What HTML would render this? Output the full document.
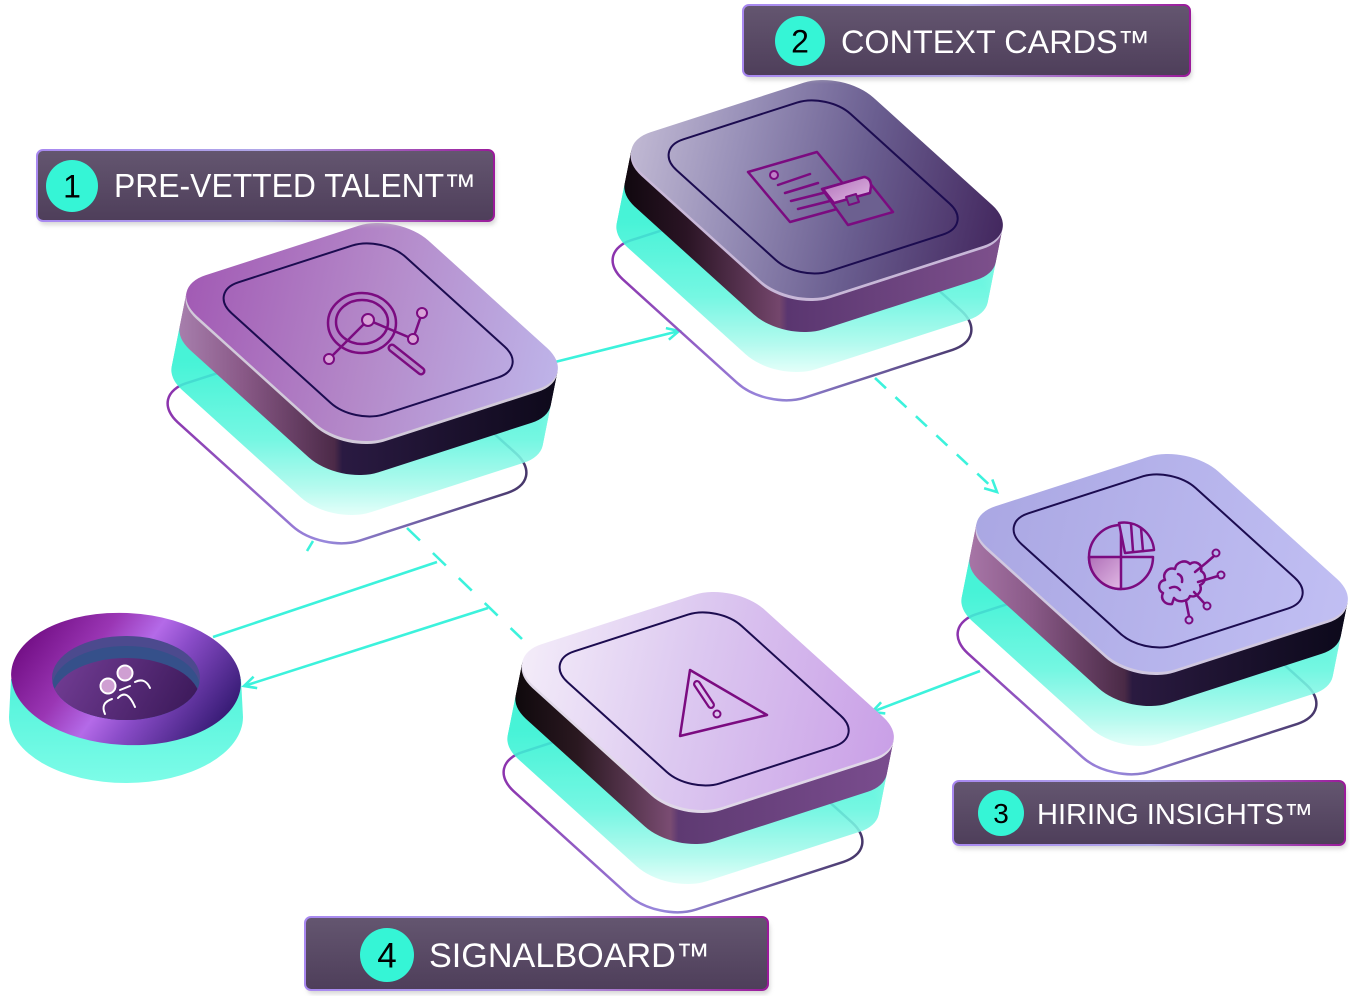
<!DOCTYPE html>
<html><head><meta charset="utf-8"><style>html,body{margin:0;padding:0;background:#fff;}svg{display:block}</style></head>
<body>
<svg width="1350" height="996" viewBox="0 0 1350 996" xmlns="http://www.w3.org/2000/svg" xmlns:xlink="http://www.w3.org/1999/xlink" font-family="'Liberation Sans', sans-serif">
<defs>
  <rect id="sq" width="100" height="100" rx="17" transform="matrix(2.32,-0.75,1.80,1.63,166,288)" vector-effect="non-scaling-stroke"/>
  <rect id="inr" x="12" y="8" width="75" height="81" rx="13" transform="matrix(2.32,-0.75,1.80,1.63,166,288)" vector-effect="non-scaling-stroke"/>
  <g id="cyS">
    <use href="#sq" x="-7.2" y="36"/><use href="#sq" x="-7.6" y="38"/><use href="#sq" x="-8" y="40"/><use href="#sq" x="-8.4" y="42"/>
    <use href="#sq" x="-8.8" y="44"/><use href="#sq" x="-9.2" y="46"/><use href="#sq" x="-9.6" y="48"/><use href="#sq" x="-10" y="50"/>
    <use href="#sq" x="-10.4" y="52"/><use href="#sq" x="-10.8" y="54"/><use href="#sq" x="-11.2" y="56"/><use href="#sq" x="-11.6" y="58"/>
    <use href="#sq" x="-12" y="60"/><use href="#sq" x="-12.4" y="62"/><use href="#sq" x="-12.8" y="64"/><use href="#sq" x="-13.2" y="66"/>
    <use href="#sq" x="-13.6" y="68"/><use href="#sq" x="-14" y="70"/><use href="#sq" x="-14.4" y="72"/><use href="#sq" x="-14.8" y="74"/>
  </g>
  <g id="bdS">
    <use href="#sq" x="-0.4" y="2"/><use href="#sq" x="-0.8" y="4"/><use href="#sq" x="-1.2" y="6"/><use href="#sq" x="-1.6" y="8"/>
    <use href="#sq" x="-2" y="10"/><use href="#sq" x="-2.4" y="12"/><use href="#sq" x="-2.8" y="14"/><use href="#sq" x="-3.2" y="16"/>
    <use href="#sq" x="-3.6" y="18"/><use href="#sq" x="-4" y="20"/><use href="#sq" x="-4.4" y="22"/><use href="#sq" x="-4.8" y="24"/>
    <use href="#sq" x="-5.2" y="26"/><use href="#sq" x="-5.6" y="28"/><use href="#sq" x="-6" y="30"/><use href="#sq" x="-6.4" y="32"/>
    <use href="#sq" x="-6.8" y="34"/>
  </g>

  <linearGradient id="cy" gradientUnits="userSpaceOnUse" x1="0" y1="287" x2="0" y2="443" gradientTransform="matrix(0.31764,0.14615,-0.35077,0.4521,48.294,-154.466)">
    <stop offset="0" stop-color="#2ef2d2"/><stop offset="0.5" stop-color="#62f6df"/><stop offset="0.8" stop-color="#a8faec"/><stop offset="1" stop-color="#e4fffa"/>
  </linearGradient>
  <linearGradient id="ol" x1="0" y1="0" x2="1" y2="1">
    <stop offset="0" stop-color="#8a2aa8"/><stop offset="0.5" stop-color="#9888dc"/><stop offset="1" stop-color="#3e2e5e"/>
  </linearGradient>

  <linearGradient id="s1" gradientUnits="userSpaceOnUse" x1="166" y1="0" x2="578" y2="0" gradientTransform="matrix(0.31764,0.14615,-0.35077,0.4521,48.294,-154.466)">
    <stop offset="0" stop-color="#b08ab8"/><stop offset="0.2" stop-color="#8a5a88"/><stop offset="0.425" stop-color="#4c2a48"/><stop offset="0.445" stop-color="#2a1a42"/><stop offset="1" stop-color="#0c0818"/>
  </linearGradient>
  <linearGradient id="s2" gradientUnits="userSpaceOnUse" x1="166" y1="0" x2="578" y2="0" gradientTransform="matrix(0.31764,0.14615,-0.35077,0.4521,48.294,-154.466)">
    <stop offset="0" stop-color="#080408"/><stop offset="0.2" stop-color="#2a1424"/><stop offset="0.425" stop-color="#74466c"/><stop offset="0.445" stop-color="#5a3670"/><stop offset="1" stop-color="#80528e"/>
  </linearGradient>
  <linearGradient id="s3" gradientUnits="userSpaceOnUse" x1="166" y1="0" x2="578" y2="0" gradientTransform="matrix(0.31764,0.14615,-0.35077,0.4521,48.294,-154.466)">
    <stop offset="0" stop-color="#b07eb0"/><stop offset="0.2" stop-color="#8a5a88"/><stop offset="0.425" stop-color="#4a2a46"/><stop offset="0.445" stop-color="#2a1a40"/><stop offset="1" stop-color="#0a0818"/>
  </linearGradient>
  <linearGradient id="s4" gradientUnits="userSpaceOnUse" x1="166" y1="0" x2="578" y2="0" gradientTransform="matrix(0.31764,0.14615,-0.35077,0.4521,48.294,-154.466)">
    <stop offset="0" stop-color="#060406"/><stop offset="0.2" stop-color="#2a1820"/><stop offset="0.425" stop-color="#7a4c72"/><stop offset="0.445" stop-color="#5e3a72"/><stop offset="1" stop-color="#7c4e90"/>
  </linearGradient>

  <linearGradient id="f1" x1="0" y1="0" x2="1" y2="1">
    <stop offset="0" stop-color="#a056b2"/><stop offset="0.5" stop-color="#b489c9"/><stop offset="1" stop-color="#bfb8ec"/>
  </linearGradient>
  <linearGradient id="f2" x1="0" y1="0" x2="1" y2="1">
    <stop offset="0" stop-color="#c8c0d8"/><stop offset="0.3" stop-color="#9890b8"/><stop offset="0.6" stop-color="#6a5e90"/><stop offset="1" stop-color="#3e2058"/>
  </linearGradient>
  <linearGradient id="f3" x1="0" y1="0" x2="1" y2="1">
    <stop offset="0" stop-color="#a9a6e2"/><stop offset="1" stop-color="#c2c0f4"/>
  </linearGradient>
  <linearGradient id="f4" x1="0" y1="0" x2="1" y2="1">
    <stop offset="0" stop-color="#f6f0fa"/><stop offset="0.45" stop-color="#dcc8f0"/><stop offset="1" stop-color="#c89ce6"/>
  </linearGradient>

  <linearGradient id="lf" x1="0" y1="0" x2="0" y2="1">
    <stop offset="0" stop-color="#645670"/><stop offset="1" stop-color="#4e3e5a"/>
  </linearGradient>
  <linearGradient id="ls" x1="0" y1="0" x2="1" y2="0">
    <stop offset="0" stop-color="#a888f0"/><stop offset="0.5" stop-color="#b0a8e8"/><stop offset="1" stop-color="#9a1a9a"/>
  </linearGradient>
  <filter id="blur" x="-10%" y="-30%" width="120%" height="160%"><feGaussianBlur stdDeviation="2"/></filter>

  <linearGradient id="discTop" gradientUnits="userSpaceOnUse" x1="30" y1="620" x2="220" y2="745">
    <stop offset="0" stop-color="#6e0a80"/><stop offset="0.3" stop-color="#9a36b4"/><stop offset="0.48" stop-color="#b46ae8"/><stop offset="0.62" stop-color="#8a4cc8"/><stop offset="1" stop-color="#2a1468"/>
  </linearGradient>
  <linearGradient id="discSide" gradientUnits="userSpaceOnUse" x1="0" y1="680" x2="0" y2="785">
    <stop offset="0" stop-color="#50f3da"/><stop offset="1" stop-color="#7efce8"/>
  </linearGradient>
  <linearGradient id="floor" gradientUnits="userSpaceOnUse" x1="70" y1="660" x2="190" y2="725">
    <stop offset="0" stop-color="#6e3a90"/><stop offset="1" stop-color="#3a1858"/>
  </linearGradient>
  <clipPath id="hole"><ellipse cx="126" cy="678" rx="74" ry="42"/></clipPath>
  <linearGradient id="pink" x1="0" y1="0" x2="1" y2="1">
    <stop offset="0" stop-color="#b070b8"/><stop offset="1" stop-color="#e0b8e4"/>
  </linearGradient>
</defs>

<!-- connectors -->
<g stroke="#3cf2dc" stroke-width="2.6" fill="none" stroke-linecap="butt">
  <line x1="555" y1="362" x2="679" y2="331"/>
  <path d="M665.9,328.1 L679,331 L668.9,339.7"/>
  <line x1="875" y1="378" x2="997" y2="492" stroke-dasharray="15 13"/>
  <path d="M984.1,488.2 L997,492 L992.3,479.4"/>
  <line x1="980" y1="671" x2="872" y2="712"/>
  <path d="M881.1,702.2 L872,712 L885.3,713.4"/>
  <line x1="407" y1="528" x2="522" y2="639" stroke-dasharray="18 18"/>
  <line x1="213" y1="637" x2="437" y2="562"/>
  <line x1="488" y1="608" x2="244" y2="686"/>
  <path d="M253.6,676.7 L244,686 L257.2,688.1"/>
  <line x1="313" y1="541" x2="307" y2="551"/>
</g>

<!-- disc -->
<path d="M11,679 L9,717 A117,66 0 0 0 243,717 L241,679 Z" fill="url(#discSide)"/>
<ellipse cx="126" cy="679" rx="115" ry="66" fill="url(#discTop)" transform="rotate(3 126 679)"/>
<g clip-path="url(#hole)">
  <rect x="50" y="630" width="160" height="100" fill="#4c4a8e"/>
  <ellipse cx="126" cy="688" rx="74" ry="42" fill="#35508a"/>
  <ellipse cx="126" cy="700" rx="74" ry="42" fill="url(#floor)"/>
</g>
<g stroke="#fff" stroke-width="2" fill="none" stroke-linecap="round">
  <circle cx="108" cy="686" r="7.5" fill="#cf9fd2"/>
  <circle cx="125" cy="673" r="7.5" fill="#cf9fd2"/>
  <path d="M105,714 Q100,703 112,699"/>
  <path d="M120,690 L130,686"/>
  <path d="M118,698 Q127,688 135,707"/>
  <path d="M135,682 Q145,677 150,688"/>
</g>

<!-- Tile 1 -->
<g>
  <use href="#sq" transform="translate(347,438) scale(0.965) translate(-372,-332)" fill="none" stroke="url(#ol)" stroke-width="2.5"/>
  <use href="#cyS" fill="url(#cy)" opacity="0.88"/>
  <use href="#bdS" fill="url(#s1)"/>
  <use href="#sq" x="-0.5" y="3" fill="#d2cada"/>
  <use href="#sq" fill="url(#f1)"/>
  <use href="#inr" fill="none" stroke="#1c0c50" stroke-width="2"/>
</g>
<!-- Tile 2 -->
<g transform="translate(445,-143)">
  <use href="#sq" transform="translate(347,438) scale(0.965) translate(-372,-332)" fill="none" stroke="url(#ol)" stroke-width="2.5"/>
  <use href="#cyS" fill="url(#cy)" opacity="0.88"/>
  <use href="#bdS" fill="url(#s2)"/>
  <use href="#sq" x="-0.5" y="3" fill="#c8b8d8"/>
  <use href="#sq" fill="url(#f2)"/>
  <use href="#inr" fill="none" stroke="#1c0c50" stroke-width="2"/>
</g>
<!-- Tile 3 -->
<g transform="translate(790,231)">
  <use href="#sq" transform="translate(347,438) scale(0.965) translate(-372,-332)" fill="none" stroke="url(#ol)" stroke-width="2.5"/>
  <use href="#cyS" fill="url(#cy)" opacity="0.88"/>
  <use href="#bdS" fill="url(#s3)"/>
  <use href="#sq" x="-0.5" y="3" fill="#d0c8e0"/>
  <use href="#sq" fill="url(#f3)"/>
  <use href="#inr" fill="none" stroke="#1c0c50" stroke-width="2"/>
</g>
<!-- Tile 4 -->
<g transform="translate(336,369)">
  <use href="#sq" transform="translate(347,438) scale(0.965) translate(-372,-332)" fill="none" stroke="url(#ol)" stroke-width="2.5"/>
  <use href="#cyS" fill="url(#cy)" opacity="0.88"/>
  <use href="#bdS" fill="url(#s4)"/>
  <use href="#sq" x="-0.5" y="3" fill="#e0d8e8"/>
  <use href="#sq" fill="url(#f4)"/>
  <use href="#inr" fill="none" stroke="#1c0c50" stroke-width="2"/>
</g>

<!-- Icons -->
<g fill="none" stroke="#7b0b80" stroke-width="2.5" stroke-linejoin="round" stroke-linecap="round">
  <!-- tile1 -->
  <line x1="392" y1="348" x2="421" y2="371" stroke-width="9"/>
  <line x1="392" y1="348" x2="421" y2="371" stroke-width="4" stroke="#b48ac8"/>
  <ellipse cx="362" cy="323" rx="34" ry="30"/>
  <ellipse cx="362" cy="322" rx="26" ry="22"/>
  <line x1="368" y1="320" x2="329" y2="359"/>
  <line x1="368" y1="320" x2="413" y2="339"/>
  <line x1="413" y1="339" x2="422" y2="313"/>
  <circle cx="368" cy="320" r="6" fill="#d8a2d8" stroke-width="2"/>
  <circle cx="329" cy="359" r="5" fill="#d8a2d8" stroke-width="2"/>
  <circle cx="413" cy="339" r="5" fill="#d8a2d8" stroke-width="2"/>
  <circle cx="422" cy="313" r="5" fill="#d8a2d8" stroke-width="2"/>
  <!-- tile2 -->
  <polygon points="748,172 817,152 859,203 790,222"/>
  <circle cx="774" cy="175" r="4" fill="#c080c8" stroke-width="2"/>
  <line x1="778" y1="185" x2="810" y2="174"/>
  <line x1="785" y1="193" x2="818" y2="183"/>
  <line x1="791" y1="201" x2="823" y2="193"/>
  <line x1="798" y1="209" x2="830" y2="201"/>
  <polygon points="822,189 865,177 893,212 848,225" fill="#6c6090"/>
  <path d="M823,189 L864,177 Q871,178 871,186 L870,193 L834,203 Z" fill="url(#pink)"/>
  <polygon points="846,197 856,194 859,202 849,205" fill="#6c6090" stroke-width="2"/>
  <!-- tile3 -->
  <path d="M1121,557 L1153,557 A32,32 0 1 1 1121,525 Z"/>
  <path d="M1121,557 L1121,589 A32,32 0 0 1 1089,557 Z" fill="url(#pink)"/>
  <path d="M1125,553 L1119,523 A30,30 0 0 1 1154,550 Z" fill="#b6b4ec"/>
  <line x1="1131" y1="524" x2="1133" y2="551"/>
  <line x1="1141" y1="528" x2="1143" y2="551"/>
  <path d="M1172,604 c-7,1 -12,-5 -9,-11 c-6,-3 -5,-12 2,-13 c-3,-7 3,-13 10,-11 c1,-7 10,-10 15,-5 c5,-4 13,0 11,7 c6,3 5,12 -1,14 c3,7 -4,13 -10,11 c-2,6 -12,7 -16,2 z"/>
  <path d="M1170,588 q6,-3 10,2"/>
  <path d="M1178,574 q5,2 4,8"/>
  <path d="M1195,572 L1206,563 L1214,556"/>
  <path d="M1198,582 L1218,576"/>
  <path d="M1194,592 L1204,603"/>
  <path d="M1186,601 L1189,616"/>
  <circle cx="1216" cy="553" r="3.5" stroke-width="2"/>
  <circle cx="1221" cy="575" r="3.5" stroke-width="2"/>
  <circle cx="1207" cy="606" r="3.5" stroke-width="2"/>
  <circle cx="1189" cy="620" r="3.5" stroke-width="2"/>
  <!-- tile4 -->
  <polygon points="690,670 767,715 680,736"/>
  <line x1="697" y1="684" x2="711" y2="705" stroke-width="8"/>
  <line x1="697" y1="684" x2="711" y2="705" stroke-width="3.5" stroke="#dcc6ee"/>
  <circle cx="717" cy="714" r="3.5" fill="#dcc6ee" stroke-width="2"/>
</g>

<!-- Labels -->
<g>
  <rect x="39" y="155" width="457" height="70" rx="6" fill="#bdbdbd" opacity="0.6" filter="url(#blur)"/>
  <rect x="37" y="150" width="457" height="71" rx="6" fill="url(#lf)" stroke="url(#ls)" stroke-width="2"/>
  <circle cx="72" cy="186" r="26" fill="#35f5d6"/>
  <text x="72" y="197.5" font-size="32" text-anchor="middle" fill="#000">1</text>
  <text x="114" y="197" font-size="33" fill="#fff" textLength="362" lengthAdjust="spacingAndGlyphs">PRE-VETTED TALENT™</text>
</g>
<g>
  <rect x="745" y="10" width="447" height="70" rx="6" fill="#bdbdbd" opacity="0.6" filter="url(#blur)"/>
  <rect x="743" y="5" width="447" height="71" rx="6" fill="url(#lf)" stroke="url(#ls)" stroke-width="2"/>
  <circle cx="800" cy="41" r="25" fill="#35f5d6"/>
  <text x="800" y="52.5" font-size="32" text-anchor="middle" fill="#000">2</text>
  <text x="841" y="53" font-size="32" fill="#fff" textLength="309" lengthAdjust="spacingAndGlyphs">CONTEXT CARDS™</text>
</g>
<g>
  <rect x="955" y="786" width="392" height="63" rx="6" fill="#bdbdbd" opacity="0.6" filter="url(#blur)"/>
  <rect x="953" y="781" width="392" height="64" rx="6" fill="url(#lf)" stroke="url(#ls)" stroke-width="2"/>
  <circle cx="1001" cy="813" r="23" fill="#35f5d6"/>
  <text x="1001" y="823" font-size="28" text-anchor="middle" fill="#000">3</text>
  <text x="1037" y="824" font-size="29" fill="#fff" textLength="276" lengthAdjust="spacingAndGlyphs">HIRING INSIGHTS™</text>
</g>
<g>
  <rect x="307" y="922" width="463" height="72" rx="6" fill="#bdbdbd" opacity="0.6" filter="url(#blur)"/>
  <rect x="305" y="917" width="463" height="73" rx="6" fill="url(#lf)" stroke="url(#ls)" stroke-width="2"/>
  <circle cx="387" cy="955" r="27" fill="#35f5d6"/>
  <text x="387" y="967.5" font-size="35" text-anchor="middle" fill="#000">4</text>
  <text x="429" y="967" font-size="34" fill="#fff" textLength="281" lengthAdjust="spacingAndGlyphs">SIGNALBOARD™</text>
</g>
</svg>
</body></html>
